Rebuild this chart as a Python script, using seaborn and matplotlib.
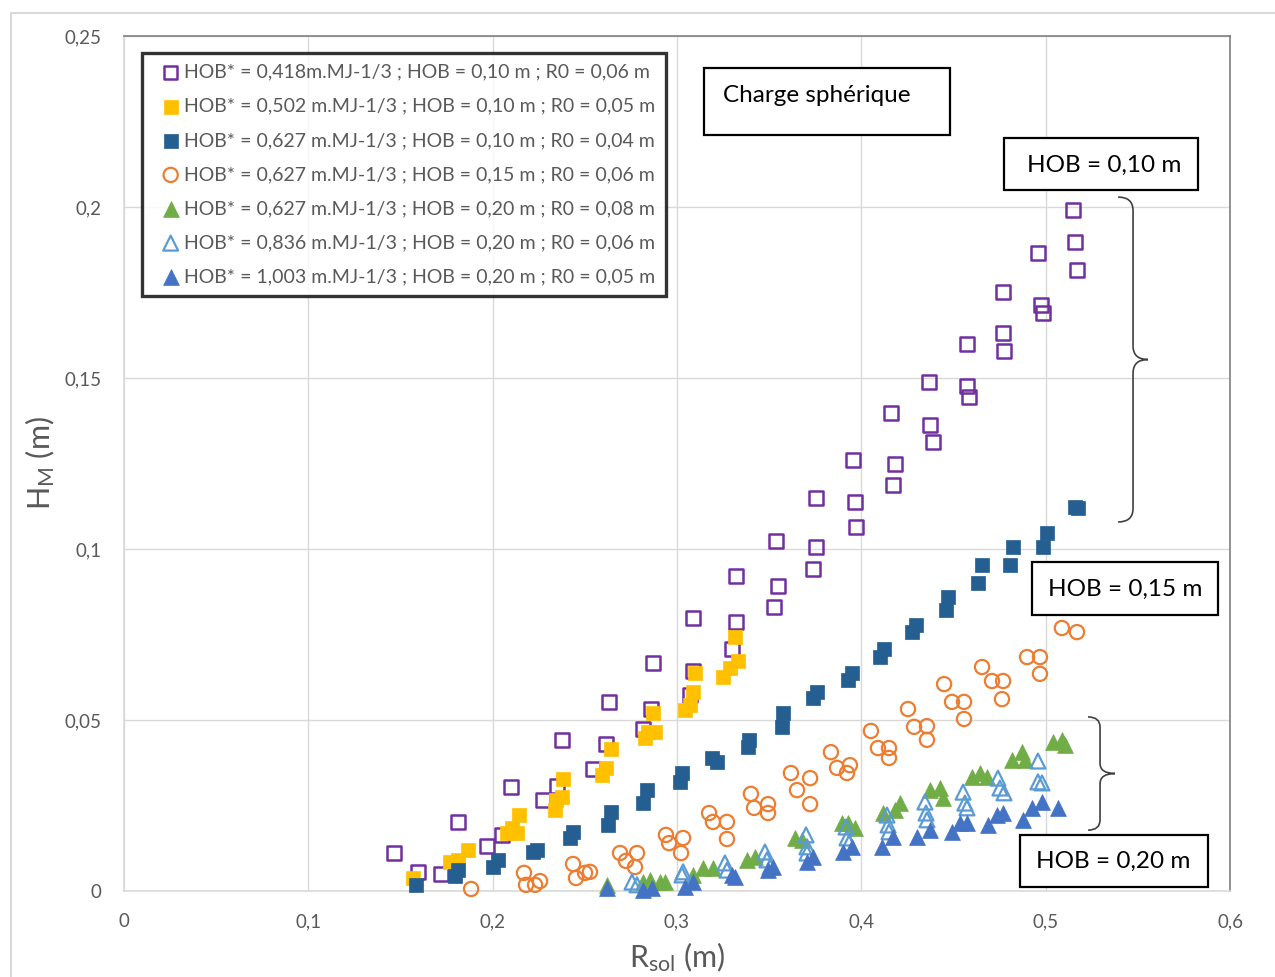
import matplotlib
matplotlib.use("Agg")
import matplotlib.pyplot as plt
import seaborn as sns
import numpy as np
import pandas as pd
from matplotlib.patches import Rectangle, PathPatch
from matplotlib.path import Path

# ---------------- data ----------------
labels = [
    "HOB* = 0,418m.MJ-1/3 ; HOB = 0,10 m ; R0 = 0,06 m",
    "HOB* = 0,502 m.MJ-1/3 ; HOB = 0,10 m ; R0 = 0,05 m",
    "HOB* = 0,627 m.MJ-1/3 ; HOB = 0,10 m ; R0 = 0,04 m",
    "HOB* = 0,627 m.MJ-1/3 ; HOB = 0,15 m ; R0 = 0,06 m",
    "HOB* = 0,627 m.MJ-1/3 ; HOB = 0,20 m ; R0 = 0,08 m",
    "HOB* = 0,836 m.MJ-1/3 ; HOB = 0,20 m ; R0 = 0,06 m",
    "HOB* = 1,003 m.MJ-1/3 ; HOB = 0,20 m ; R0 = 0,05 m",
]

r_418 = [0.1465, 0.1595, 0.172, 0.1812, 0.1969, 0.2051, 0.2099, 0.2273, 0.2349, 0.2376,
         0.2544, 0.2615, 0.2631, 0.2816, 0.2859, 0.2870, 0.3071, 0.3087, 0.3087, 0.3298,
         0.3320, 0.3320, 0.3526, 0.3548, 0.3537, 0.3738, 0.3754, 0.3754, 0.3971, 0.3966,
         0.3955, 0.4172, 0.4183, 0.4161, 0.4389, 0.4373, 0.4367, 0.4584, 0.4573, 0.4573,
         0.4774, 0.4769, 0.4769, 0.4986, 0.4975, 0.4958, 0.5170, 0.5159, 0.5148]
h_418 = [0.0111, 0.0056, 0.0050, 0.0202, 0.0132, 0.0164, 0.0304, 0.0266, 0.0307, 0.0442,
         0.0357, 0.0430, 0.0553, 0.0474, 0.0532, 0.0667, 0.0573, 0.0643, 0.0798, 0.0708,
         0.0787, 0.0921, 0.0830, 0.0892, 0.1023, 0.0942, 0.1006, 0.1149, 0.1064, 0.1137,
         0.1260, 0.1187, 0.1249, 0.1398, 0.1313, 0.1363, 0.1488, 0.1444, 0.1477, 0.1599,
         0.1579, 0.1632, 0.1751, 0.1690, 0.1713, 0.1866, 0.1816, 0.1898, 0.1991]

r_502 = [0.1568, 0.1769, 0.1812, 0.1866, 0.2078, 0.2105, 0.2132, 0.2143, 0.2338, 0.2344,
         0.2376, 0.2382, 0.2593, 0.2615, 0.2642, 0.2826, 0.2843, 0.2881, 0.2870, 0.3043,
         0.3071, 0.3087, 0.3098, 0.3250, 0.3287, 0.3331, 0.3315]
h_502 = [0.0038, 0.0085, 0.0091, 0.0120, 0.0170, 0.0184, 0.0170, 0.0222, 0.0237, 0.0266,
         0.0275, 0.0327, 0.0339, 0.0360, 0.0415, 0.0447, 0.0465, 0.0465, 0.0520, 0.0529,
         0.0544, 0.0582, 0.0637, 0.0626, 0.0652, 0.0673, 0.0743]

r_627a = [0.1584, 0.1796, 0.1812, 0.2002, 0.2029, 0.2219, 0.2241, 0.2420, 0.2436, 0.2626,
          0.2642, 0.2816, 0.2837, 0.3016, 0.3027, 0.3190, 0.3217, 0.3385, 0.3391, 0.3570,
          0.3575, 0.3738, 0.3760, 0.3928, 0.3949, 0.4101, 0.4123, 0.4275, 0.4297, 0.4459,
          0.4470, 0.4633, 0.4655, 0.4807, 0.4823, 0.4986, 0.5007, 0.5159, 0.5176]
h_627a = [0.0018, 0.0044, 0.0061, 0.0070, 0.0091, 0.0114, 0.0120, 0.0155, 0.0173, 0.0193,
          0.0231, 0.0257, 0.0295, 0.0319, 0.0345, 0.0389, 0.0377, 0.0421, 0.0442, 0.0480,
          0.0520, 0.0564, 0.0582, 0.0617, 0.0637, 0.0684, 0.0708, 0.0757, 0.0778, 0.0822,
          0.0860, 0.0901, 0.0953, 0.0953, 0.1006, 0.1006, 0.1047, 0.1123, 0.1120]

r_627b = [0.1883, 0.2170, 0.2181, 0.2230, 0.2257, 0.2436, 0.2452, 0.2501, 0.2528, 0.2691,
          0.2723, 0.2783, 0.2772, 0.2940, 0.2957, 0.3033, 0.3022, 0.3174, 0.3195, 0.3271,
          0.3271, 0.3401, 0.3418, 0.3494, 0.3494, 0.3618, 0.3651, 0.3722, 0.3722, 0.3835,
          0.3868, 0.3938, 0.3922, 0.4052, 0.4090, 0.4150, 0.4150, 0.4253, 0.4286, 0.4356,
          0.4356, 0.4449, 0.4492, 0.4557, 0.4557, 0.4655, 0.4709, 0.4769, 0.4763, 0.4899,
          0.4969, 0.4969, 0.5088, 0.5170]
h_627b = [0.0006, 0.0053, 0.0018, 0.0018, 0.0029, 0.0079, 0.0038, 0.0053, 0.0056, 0.0111,
          0.0088, 0.0111, 0.0070, 0.0164, 0.0140, 0.0155, 0.0111, 0.0228, 0.0202, 0.0202,
          0.0152, 0.0284, 0.0243, 0.0254, 0.0228, 0.0345, 0.0295, 0.0330, 0.0254, 0.0406,
          0.0360, 0.0368, 0.0345, 0.0468, 0.0418, 0.0418, 0.0389, 0.0532, 0.0480, 0.0482,
          0.0442, 0.0605, 0.0553, 0.0553, 0.0503, 0.0655, 0.0614, 0.0614, 0.0561, 0.0684,
          0.0684, 0.0635, 0.0769, 0.0757]

r_627c = [0.2620, 0.2816, 0.2854, 0.2908, 0.2935, 0.3087, 0.3141, 0.3195, 0.3380, 0.3423,
          0.3640, 0.3678, 0.3895, 0.3928, 0.3966, 0.4118, 0.4183, 0.4210, 0.4373, 0.4427,
          0.4443, 0.4600, 0.4644, 0.4682, 0.4817, 0.4872, 0.4888, 0.5040, 0.5088, 0.5105]
h_627c = [0.0018, 0.0026, 0.0032, 0.0026, 0.0026, 0.0047, 0.0067, 0.0067, 0.0091, 0.0099,
          0.0155, 0.0149, 0.0199, 0.0199, 0.0184, 0.0228, 0.0237, 0.0257, 0.0295, 0.0301,
          0.0272, 0.0333, 0.0345, 0.0333, 0.0383, 0.0406, 0.0383, 0.0436, 0.0442, 0.0427]

r_836 = [0.2756, 0.2783, 0.3027, 0.3033, 0.3260, 0.3271, 0.3477, 0.3488, 0.3505, 0.3700,
         0.3705, 0.3705, 0.3917, 0.3922, 0.3933, 0.4139, 0.4145, 0.4150, 0.4345, 0.4351,
         0.4356, 0.4552, 0.4562, 0.4573, 0.4741, 0.4752, 0.4774, 0.4958, 0.4958, 0.4980]
h_836 = [0.0026, 0.0018, 0.0047, 0.0056, 0.0082, 0.0061, 0.0114, 0.0091, 0.0070, 0.0164,
         0.0129, 0.0111, 0.0187, 0.0155, 0.0140, 0.0222, 0.0193, 0.0173, 0.0260, 0.0228,
         0.0208, 0.0289, 0.0257, 0.0243, 0.0330, 0.0301, 0.0287, 0.0380, 0.0319, 0.0316]

r_1003 = [0.2620, 0.2816, 0.2864, 0.3043, 0.3087, 0.3298, 0.3315, 0.3494, 0.3521, 0.3705,
          0.3738, 0.3901, 0.3949, 0.4112, 0.4172, 0.4302, 0.4373, 0.4492, 0.4535, 0.4573,
          0.4687, 0.4736, 0.4769, 0.4877, 0.4926, 0.4980, 0.5067]
h_1003 = [0.0009, 0.0003, 0.0009, 0.0012, 0.0026, 0.0047, 0.0041, 0.0061, 0.0070, 0.0085,
          0.0099, 0.0114, 0.0129, 0.0129, 0.0158, 0.0158, 0.0178, 0.0173, 0.0199, 0.0199,
          0.0193, 0.0222, 0.0228, 0.0208, 0.0243, 0.0260, 0.0243]

x_ticks = [0, 0.1, 0.2, 0.3, 0.4, 0.5, 0.6]
x_ticklabels = ["0", "0,1", "0,2", "0,3", "0,4", "0,5", "0,6"]
y_ticks = [0, 0.05, 0.1, 0.15, 0.2, 0.25]
y_ticklabels = ["0", "0,05", "0,1", "0,15", "0,2", "0,25"]

group_labels = ["HOB = 0,10 m", "HOB = 0,15 m", "HOB = 0,20 m"]
title_box = "Charge sphérique"

# ---------------- style ----------------
sns.set_style("white")
plt.rcParams['font.family'] = ['Lato', 'DejaVu Sans']
plt.rcParams['mathtext.fontset'] = 'custom'
plt.rcParams['mathtext.rm'] = 'Lato'
plt.rcParams['mathtext.it'] = 'Lato:italic'
GRAY = "#595959"

W, H = 1275, 977
fig = plt.figure(figsize=(W / 100, H / 100), dpi=100)
ax = fig.add_axes([124 / W, 1 - 891 / H, (1230 - 124) / W, (891 - 36) / H])

series = [
    (r_418, h_418, dict(marker='s', facecolor='none', edgecolor='#7030A0', linewidth=1.8, s=95)),
    (r_502, h_502, dict(marker='s', color='#FFC000', edgecolor='#FFC000', linewidth=0.5, s=110)),
    (r_627a, h_627a, dict(marker='s', color='#255E91', edgecolor='#255E91', linewidth=0.5, s=110)),
    (r_627b, h_627b, dict(marker='o', facecolor='none', edgecolor='#ED7D31', linewidth=1.6, s=105)),
    (r_627c, h_627c, dict(marker='^', color='#70AD47', edgecolor='#70AD47', linewidth=0.5, s=130)),
    (r_836, h_836, dict(marker='^', facecolor='none', edgecolor='#5B9BD5', linewidth=1.6, s=115)),
    (r_1003, h_1003, dict(marker='^', color='#4472C4', edgecolor='#4472C4', linewidth=0.5, s=130)),
]

for (xs, ys, kw), lab in zip(series, labels):
    df = pd.DataFrame({"R_sol": xs, "H_M": ys})
    sns.scatterplot(data=df, x="R_sol", y="H_M", ax=ax, label=lab, zorder=3, clip_on=False, **kw)

ax.set_xlim(0, 0.6)
ax.set_ylim(0, 0.25)
ax.set_xticks(x_ticks)
ax.set_xticklabels(x_ticklabels)
ax.set_yticks(y_ticks)
ax.set_yticklabels(y_ticklabels)
ax.tick_params(axis='both', length=0, labelsize=13.5, labelcolor=GRAY)
ax.tick_params(axis='x', pad=16)
ax.tick_params(axis='y', pad=16)
ax.grid(True, color='#D9D9D9', linewidth=1.0, zorder=0)
ax.set_axisbelow(True)
for side in ['left', 'bottom']:
    ax.spines[side].set_color('#D9D9D9')
    ax.spines[side].set_linewidth(1.2)
for side in ['top', 'right']:
    ax.spines[side].set_color('#7F7F7F')
    ax.spines[side].set_linewidth(1.2)

ax.set_xlabel(r"R$_{\mathrm{sol}}$ (m)", fontsize=22, color=GRAY)
ax.set_ylabel(r"H$_{\mathrm{M}}$ (m)", fontsize=22, color=GRAY)
ax.xaxis.set_label_coords(0.5, -0.078)
ax.xaxis.label.set_va('center')
ax.yaxis.set_label_coords(-0.076, 0.5)
ax.yaxis.label.set_va('center')

# legend
handles, lbls = ax.get_legend_handles_labels()
leg = ax.legend(handles, lbls, loc='upper left', bbox_to_anchor=((142 - 124) / 1106, (891 - 53) / 855),
                borderaxespad=0, fontsize=14, frameon=True, fancybox=False,
                handlelength=1.85, handletextpad=-0.25, labelspacing=0.88,
                borderpad=0.55, labelcolor=GRAY)
leg.get_frame().set_edgecolor('black')
leg.get_frame().set_linewidth(2.4)

# boxes with text (figure pixel geometry)
def box(x0, y0, x1, y1, text, tx, ty, ha='center', fs=16):
    rect = Rectangle((x0 / W, 1 - y1 / H), (x1 - x0) / W, (y1 - y0) / H,
                     transform=fig.transFigure, facecolor='white', edgecolor='black',
                     linewidth=1.6, zorder=5)
    fig.patches.append(rect)
    fig.text(tx / W, 1 - ty / H, text, ha=ha, va='center', fontsize=fs, color='black', zorder=6)

box(704, 68, 950, 135, title_box, 723, 96, ha='left', fs=17.5)
box(1004, 138, 1198, 190, group_labels[0], 1104, 165, fs=17.5)
box(1032, 562, 1218, 615, group_labels[1], 1125, 589, fs=17.5)
box(1020, 835, 1208, 887, group_labels[2], 1113, 861, fs=17.5)

# curly braces (data coords)
def brace(xe, xv, xt, y0, y1, r):
    ym = (y0 + y1) / 2
    verts = [(xe, y1), (xv, y1), (xv, y1 - r),
             (xv, ym + r), (xv, ym), (xt, ym),
             (xv, ym), (xv, ym - r),
             (xv, y0 + r), (xv, y0), (xe, y0)]
    codes = [Path.MOVETO, Path.CURVE3, Path.CURVE3,
             Path.LINETO, Path.CURVE3, Path.CURVE3,
             Path.CURVE3, Path.CURVE3,
             Path.LINETO, Path.CURVE3, Path.CURVE3]
    p = PathPatch(Path(verts, codes), facecolor='none', edgecolor='#404040',
                  linewidth=1.2, clip_on=False, zorder=4)
    ax.add_patch(p)

brace(0.5393, 0.5474, 0.5555, 0.1079, 0.2029, 0.004)
brace(0.5230, 0.5295, 0.5376, 0.0178, 0.0509, 0.003)

# outer chart border
fig.patches.append(Rectangle((11 / W, -0.01), 1.02, 1 - 13 / H + 0.01, transform=fig.transFigure,
                             facecolor='none', edgecolor='#D9D9D9', linewidth=1.5, zorder=0))

fig.savefig("out.png", dpi=100)
